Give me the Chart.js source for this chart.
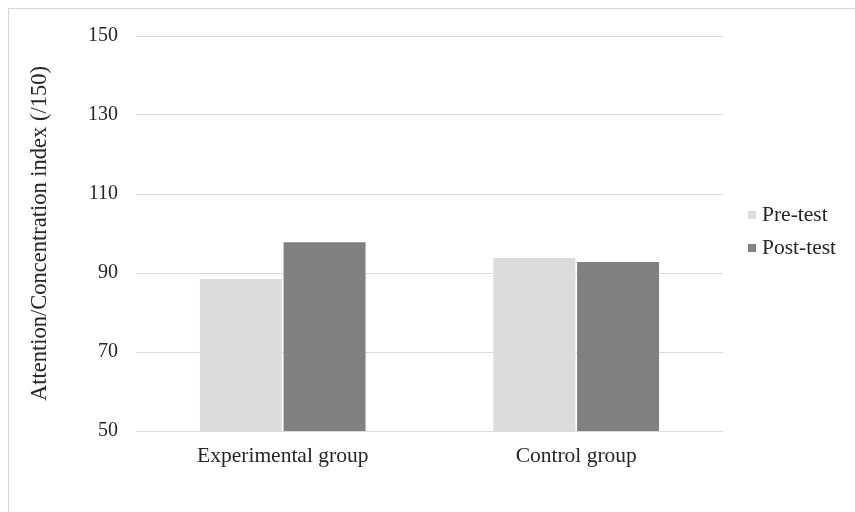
<!DOCTYPE html>
<html>
<head>
<meta charset="utf-8">
<script src="https://cdn.jsdelivr.net/npm/chart.js@4/dist/chart.umd.min.js"></script>
<style>
  html, body { margin: 0; padding: 0; background: #ffffff; }
  #wrap { position: relative; width: 855px; height: 512px; overflow: hidden; }
  #frame { position: absolute; left: 8px; top: 8px; width: 900px; height: 600px;
           border-left: 1px solid #d6d6d6; border-top: 1px solid #d6d6d6; box-sizing: border-box; }
  canvas { position: absolute; left: 0; top: 0; }
</style>
</head>
<body>
<div id="wrap">
  <div id="frame"></div>
  <canvas id="chart" width="855" height="512"></canvas>
</div>
<script>
// Groups on the x axis
const categories = ['Experimental group', 'Control group'];
// Mean attention/concentration index per group
const preTest = [88.5, 93.8];
const postTest = [97.8, 92.8];
// Value axis range and step
const yMin = 50;
const yMax = 150;
const yStep = 20;
const yTitle = 'Attention/Concentration index (/150)';

const FONT = "'Liberation Serif', 'Times New Roman', serif";
const TEXT = '#262626';

// Legend drawn at the right, beside the plot area
const sideLegend = {
  id: 'sideLegend',
  afterDraw(chart) {
    const ctx = chart.ctx;
    const items = chart.data.datasets;
    const x = 762;
    const ys = [215, 248];
    ctx.save();
    ctx.font = '21.5px ' + FONT;
    ctx.textBaseline = 'middle';
    ctx.textAlign = 'left';
    items.forEach((ds, i) => {
      ctx.fillStyle = ds.backgroundColor;
      ctx.fillRect(x - 14, ys[i] - 4, 8, 8);
      ctx.fillStyle = TEXT;
      ctx.fillText(ds.label, x, ys[i]);
    });
    ctx.restore();
  }
};

new Chart(document.getElementById('chart'), {
  type: 'bar',
  data: {
    labels: categories,
    datasets: [
      { label: 'Pre-test', data: preTest, backgroundColor: '#dcdcdc' },
      { label: 'Post-test', data: postTest, backgroundColor: '#808080' }
    ]
  },
  options: {
    responsive: false,
    animation: false,
    layout: { padding: { left: 25, top: 36, right: 132, bottom: 0 } },
    datasets: { bar: { categoryPercentage: 0.57, barPercentage: 0.98 } },
    plugins: {
      legend: { display: false },
      tooltip: { enabled: false }
    },
    scales: {
      x: {
        grid: { display: false, drawTicks: false },
        border: { display: false },
        ticks: { color: TEXT, font: { family: FONT, size: 21.5 }, padding: 12 },
        afterFit(s) { s.height = 81; }
      },
      y: {
        min: yMin,
        max: yMax,
        grid: { color: '#dadada', drawTicks: false, lineWidth: 1 },
        border: { display: false },
        ticks: { stepSize: yStep, color: TEXT, font: { family: FONT, size: 20 }, padding: 18 },
        title: { display: true, text: yTitle, color: TEXT, font: { family: FONT, size: 22.5 }, padding: { top: 2, bottom: 4 } },
        afterFit(s) { s.width = 111; }
      }
    }
  },
  plugins: [sideLegend]
});
</script>
</body>
</html>
